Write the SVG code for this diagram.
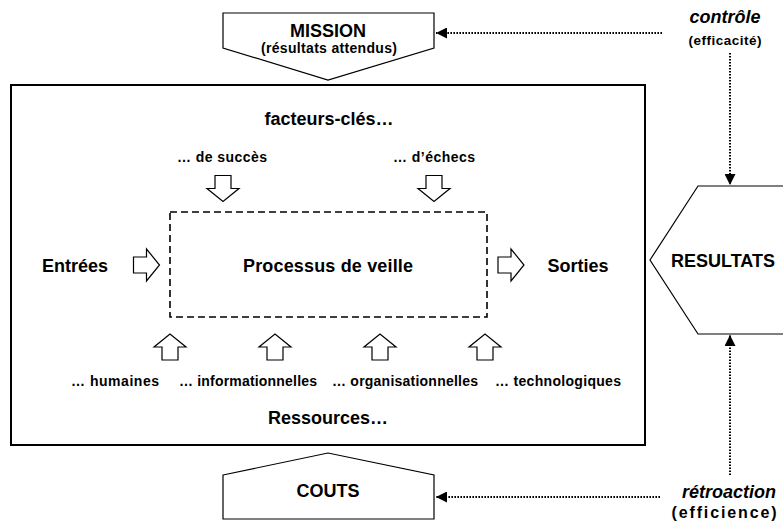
<svg xmlns="http://www.w3.org/2000/svg" width="783" height="525" viewBox="0 0 783 525">
<style>
text{font-family:"Liberation Sans",Arial,sans-serif;font-weight:bold;fill:#000;text-anchor:middle}
.big{font-size:18px}
.mid{font-size:14px}
.sm{font-size:13.5px}
.it{font-style:italic}
.shape{fill:#fff;stroke:#000;stroke-width:1.2}
.blk{fill:#fff;stroke:#000;stroke-width:1.2;stroke-linejoin:miter}
.dot{fill:none;stroke:#000;stroke-width:2;stroke-dasharray:1.6 1.4}
</style>
<defs>
<polygon id="ar" class="blk" points="-13,-8 0,-8 0,-16 13,0 0,16 0,8 -13,8"/>
<marker id="tri" viewBox="0 0 10 10" refX="10" refY="5" markerWidth="5.5" markerHeight="5.5" orient="auto" markerUnits="strokeWidth">
<path d="M0,0 L10,5 L0,10 z" fill="#000"/>
</marker>
</defs>

<g id="mission">
<polygon class="shape" points="223,13 434,13 434,48 328,80 223,48"/>
<text class="big" x="328" y="37">MISSION</text>
<text class="mid" x="329" y="53" textLength="136" lengthAdjust="spacing">(résultats attendus)</text>
</g>

<g id="main">
<rect x="11" y="85" width="634" height="360" fill="none" stroke="#000" stroke-width="2"/>
<text class="big" x="329" y="125">facteurs-clés…</text>
<text class="mid" x="222" y="162" textLength="90" lengthAdjust="spacing">… de succès</text>
<text class="mid" x="434" y="162" textLength="82" lengthAdjust="spacing">… d’échecs</text>
<text class="big" x="75" y="272">Entrées</text>
<text class="big" x="578" y="272">Sorties</text>
<text class="mid" x="115" y="386" textLength="88" lengthAdjust="spacing">… humaines</text>
<text class="mid" x="248" y="386" textLength="138" lengthAdjust="spacing">… informationnelles</text>
<text class="mid" x="405" y="386" textLength="146" lengthAdjust="spacing">… organisationnelles</text>
<text class="mid" x="558" y="386" textLength="126" lengthAdjust="spacing">… technologiques</text>
<text class="big" x="328" y="424">Ressources…</text>
</g>

<g id="processus">
<rect x="170" y="212" width="317" height="105" fill="none" stroke="#000" stroke-width="1.6" stroke-dasharray="7 4"/>
<text class="big" x="328" y="272" textLength="170" lengthAdjust="spacing">Processus de veille</text>
</g>

<g id="block-arrows">
<use href="#ar" transform="translate(146.5,265)"/>
<use href="#ar" transform="translate(511,265)"/>
<use href="#ar" transform="translate(223,188.5) rotate(90)"/>
<use href="#ar" transform="translate(434,188.5) rotate(90)"/>
<use href="#ar" transform="translate(170,347) rotate(-90)"/>
<use href="#ar" transform="translate(275,347) rotate(-90)"/>
<use href="#ar" transform="translate(380,347) rotate(-90)"/>
<use href="#ar" transform="translate(485,347) rotate(-90)"/>
</g>

<g id="resultats">
<polygon class="shape" points="650,260 698,186 800,186 800,334 698,334"/>
<text class="big" x="723" y="267">RESULTATS</text>
</g>

<g id="couts">
<polygon class="shape" points="223,475 328,453 434,475 434,519 223,519"/>
<text class="big" x="328" y="497">COUTS</text>
</g>

<g id="controle">
<text class="big it" x="725" y="23">contrôle</text>
<text class="sm" x="725" y="45" textLength="73" lengthAdjust="spacing">(efficacité)</text>
</g>

<g id="retroaction">
<text class="big it" x="729" y="498">rétroaction</text>
<text x="724" y="518" style="font-size:16px" textLength="105" lengthAdjust="spacing">(efficience)</text>
</g>

<g id="connectors">
<line class="dot" x1="662" y1="33" x2="436" y2="33" marker-end="url(#tri)"/>
<line class="dot" x1="730" y1="53" x2="730" y2="185" marker-end="url(#tri)"/>
<line class="dot" x1="730" y1="475" x2="730" y2="335" marker-end="url(#tri)"/>
<line class="dot" x1="660" y1="497" x2="436" y2="497" marker-end="url(#tri)"/>
</g>
</svg>
